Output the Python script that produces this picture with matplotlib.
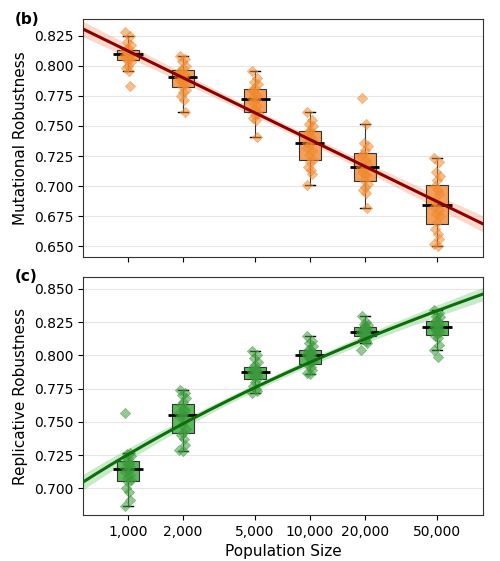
import numpy as np
import matplotlib
matplotlib.use("Agg")
import matplotlib.pyplot as plt

pop_sizes = [1000, 2000, 5000, 10000, 20000, 50000]
tick_labels = ["1,000", "2,000", "5,000", "10,000", "20,000", "50,000"]

mut_1000 = [0.828,0.825,0.820,0.817,0.815,0.812,0.811,0.810,0.809,0.808,0.807,0.806,0.805,0.803,0.800,0.798,0.796,0.783,0.813,0.810]
mut_2000 = [0.808,0.806,0.804,0.800,0.798,0.796,0.793,0.792,0.791,0.790,0.788,0.785,0.783,0.780,0.778,0.775,0.772,0.762,0.795,0.787]
mut_5000 = [0.796,0.790,0.787,0.785,0.782,0.779,0.777,0.775,0.773,0.772,0.770,0.767,0.764,0.761,0.759,0.757,0.755,0.741,0.780,0.762]
mut_10000 = [0.762,0.755,0.752,0.750,0.747,0.744,0.741,0.738,0.736,0.735,0.732,0.729,0.726,0.722,0.720,0.716,0.713,0.710,0.701,0.745]
mut_20000 = [0.773,0.752,0.736,0.733,0.730,0.727,0.722,0.718,0.716,0.715,0.712,0.709,0.705,0.702,0.699,0.697,0.694,0.682,0.725,0.710]
mut_50000 = [0.723,0.720,0.712,0.708,0.705,0.700,0.697,0.693,0.688,0.685,0.683,0.680,0.677,0.675,0.670,0.664,0.660,0.656,0.652,0.650]

rep_1000 = [0.757,0.727,0.726,0.724,0.722,0.720,0.718,0.716,0.715,0.714,0.712,0.710,0.708,0.706,0.705,0.700,0.697,0.691,0.687,0.719]
rep_2000 = [0.774,0.772,0.770,0.768,0.765,0.763,0.760,0.758,0.757,0.756,0.754,0.752,0.748,0.745,0.742,0.740,0.737,0.733,0.729,0.728]
rep_5000 = [0.803,0.800,0.798,0.795,0.793,0.791,0.789,0.788,0.788,0.787,0.786,0.785,0.784,0.783,0.780,0.777,0.775,0.773,0.772,0.790]
rep_10000 = [0.815,0.811,0.809,0.807,0.805,0.804,0.803,0.802,0.801,0.801,0.800,0.799,0.798,0.796,0.794,0.793,0.791,0.789,0.787,0.786]
rep_20000 = [0.830,0.825,0.824,0.823,0.822,0.821,0.820,0.819,0.818,0.818,0.817,0.816,0.815,0.815,0.813,0.812,0.811,0.809,0.804,0.820]
rep_50000 = [0.834,0.832,0.830,0.829,0.827,0.826,0.825,0.824,0.823,0.822,0.821,0.820,0.819,0.818,0.816,0.815,0.813,0.808,0.804,0.799]

mut = [mut_1000, mut_2000, mut_5000, mut_10000, mut_20000, mut_50000]
rep = [rep_1000, rep_2000, rep_5000, rep_10000, rep_20000, rep_50000]

fig = plt.figure(figsize=(5, 5.61), dpi=100)
ax1 = fig.add_axes([83/500, 1-257/561, 400/500, 238/561])
ax2 = fig.add_axes([83/500, 1-515/561, 400/500, 238/561])

lx = np.log10(pop_sizes)
xlo, xhi = np.log10(566), np.log10(89500)

def panel(ax, groups, transform, boxc, ptc, linec, bandc, ylab, ylim, yticks, letter):
    bp = ax.boxplot(groups, positions=lx, widths=0.12, whis=1.5, showfliers=False,
                    patch_artist=True, manage_ticks=False, zorder=2)
    for b in bp['boxes']:
        b.set_facecolor(boxc); b.set_edgecolor('#333333'); b.set_linewidth(0.8)
    for m in bp['medians']:
        m.set_color('black'); m.set_linewidth(2)
        m.set_xdata(np.array(m.get_xdata()) + np.array([-0.02, 0.02]))
    for w in bp['whiskers']:
        w.set_color('#333333'); w.set_linewidth(0.8)
    for c in bp['caps']:
        c.set_color('black'); c.set_linewidth(1.0)
        xd = np.array(c.get_xdata()); mid = xd.mean()
        c.set_xdata(mid + (xd - mid) * 0.9)
    offs = np.tile([-0.015, 0.01, -0.005, 0.018, 0.0, -0.01, 0.006, 0.013, -0.018, 0.003], 2)
    allx, ally = [], []
    for x, g in zip(lx, groups):
        g = np.array(g)
        ax.scatter(x + offs[:len(g)], g, marker='D', s=28, color=ptc, alpha=0.55,
                   edgecolor=ptc, linewidth=0.5, zorder=3)
        allx += [x]*len(g); ally += list(g)
    allx = np.array(allx); ally = np.array(ally)
    t = transform(allx)
    X = np.column_stack([t, np.ones_like(t)])
    coef, *_ = np.linalg.lstsq(X, ally, rcond=None)
    xs = np.linspace(xlo, xhi, 200)
    Xs = np.column_stack([transform(xs), np.ones_like(xs)])
    ys = Xs @ coef
    res = ally - X @ coef
    s2 = res @ res / (len(ally) - 2)
    cov = s2 * np.linalg.inv(X.T @ X)
    se = np.sqrt(np.einsum('ij,jk,ik->i', Xs, cov, Xs))
    ax.fill_between(xs, ys - 1.96*se, ys + 1.96*se, color=bandc, alpha=0.55, lw=0, zorder=1)
    ax.plot(xs, ys, color=linec, lw=2.2, zorder=4)
    ax.set_xlim(xlo, xhi)
    ax.set_ylim(*ylim)
    ax.set_yticks(yticks)
    ax.set_yticklabels([f"{v:.3f}" for v in yticks])
    ax.yaxis.grid(True, color='#e6e6e6', lw=0.8)
    ax.set_axisbelow(True)
    ax.set_xticks(lx)
    ax.set_ylabel(ylab, fontsize=11)
    ax.tick_params(labelsize=10)
    for sp in ax.spines.values():
        sp.set_color('#333333'); sp.set_linewidth(0.8)
    ax.text(-0.17, 1.0, letter, transform=ax.transAxes, fontsize=11, fontweight='bold', va='center')

panel(ax1, mut, lambda v: v, '#F5A05A', '#F08A30', '#8B0000', '#F7B8A0', 'Mutational Robustness',
      (0.641, 0.839), [0.650, 0.675, 0.700, 0.725, 0.750, 0.775, 0.800, 0.825], '(b)')
ax1.set_xticklabels([])
panel(ax2, rep, np.log, '#5CB85C', '#3C9A3C', '#0B6E0B', '#9ED99E', 'Replicative Robustness',
      (0.680, 0.859), [0.700, 0.725, 0.750, 0.775, 0.800, 0.825, 0.850], '(c)')
ax2.set_xticklabels(tick_labels)
ax2.set_xlabel('Population Size', fontsize=11)

fig.savefig('out.png', dpi=100)
